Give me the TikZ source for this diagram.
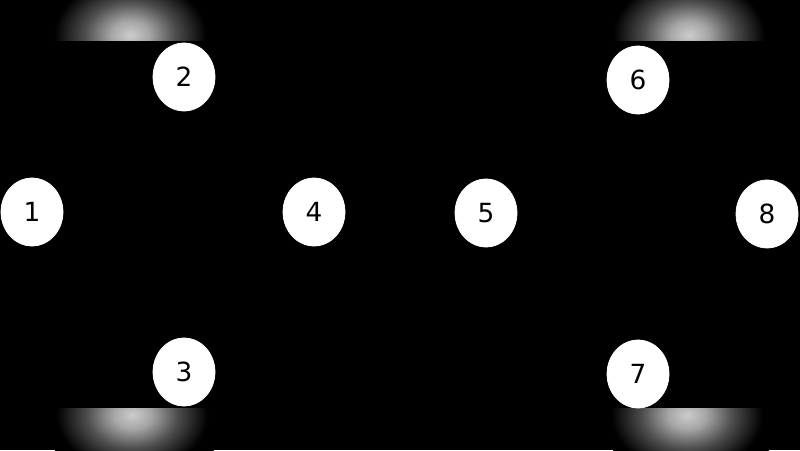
\documentclass[tikz,border=0pt]{standalone}
\usepackage{fontspec}
\setmainfont{DejaVu Sans}
\usepackage{tikz}
\usetikzlibrary{shapes.geometric}

\pgfdeclareradialshading{glowfade}{\pgfpoint{0bp}{0bp}}{%
  color(0bp)=(white!80!black); color(5bp)=(white!65!black);
  color(12bp)=(white!30!black); color(20bp)=(black); color(50bp)=(black)}

\begin{document}
\begin{tikzpicture}[
    vertex/.style={draw=white, fill=white, ellipse, minimum width=1.24cm, minimum height=1.36cm, inner sep=0pt, text=black, font=\fontsize{15}{18}\selectfont},
    glow/.style={shading=glowfade}
]

% Fundo
\useasboundingbox (0,0) rectangle (16,9);
\fill[black] (0,0) rectangle (16,9);

% Brilhos (em cima)
\begin{scope}
  \clip (1.1,8.18) rectangle (4.3,9);
  \shade[glow] (2.6,8.3) ellipse (1.9cm and 1.4cm);
\end{scope}
\begin{scope}
  \clip (12.26,8.18) rectangle (15.5,9);
  \shade[glow] (13.78,8.3) ellipse (1.9cm and 1.4cm);
\end{scope}

% Brilhos (em baixo)
\begin{scope}
  \clip (1.1,0) rectangle (4.3,0.84);
  \shade[glow] (2.64,0.7) ellipse (1.9cm and 1.4cm);
\end{scope}
\begin{scope}
  \clip (12.26,0) rectangle (15.46,0.84);
  \shade[glow] (13.74,0.7) ellipse (1.9cm and 1.4cm);
\end{scope}

% Vertices
\node[vertex] (v1) at (0.64, 4.76) {1};
\node[vertex] (v2) at (3.68, 7.46) {2};
\node[vertex] (v3) at (3.68, 1.56) {3};
\node[vertex] (v4) at (6.28, 4.76) {4};
\node[vertex] (v5) at (9.72, 4.74) {5};
\node[vertex] (v6) at (12.76, 7.40) {6};
\node[vertex] (v7) at (12.76, 1.52) {7};
\node[vertex] (v8) at (15.34, 4.72) {8};

\end{tikzpicture}
\end{document}
